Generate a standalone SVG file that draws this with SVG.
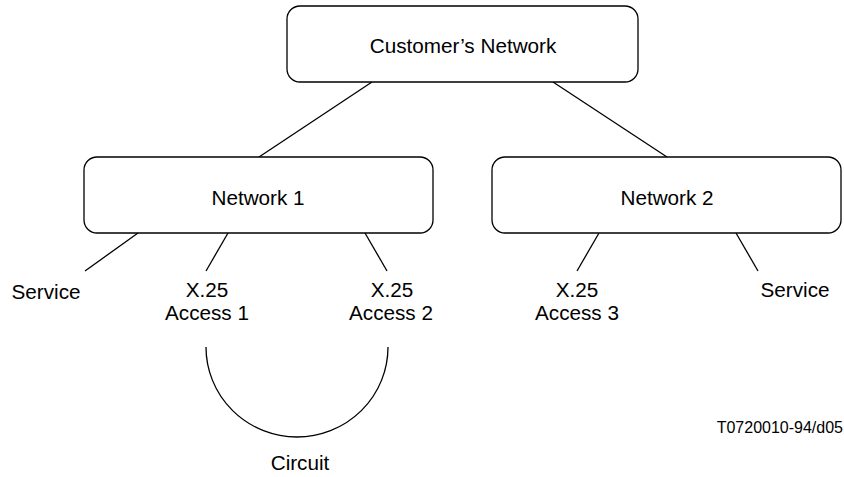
<svg xmlns="http://www.w3.org/2000/svg" width="844" height="477" viewBox="0 0 844 477">
<style>
.box{fill:#fff;stroke:#000;stroke-width:1.3}
.ln{fill:none;stroke:#000;stroke-width:1.3}
text{font-family:"Liberation Sans",Arial,sans-serif;font-size:20.7px;fill:#000;text-anchor:middle}
.small{font-size:16px;text-anchor:end}
</style>
<rect width="844" height="477" fill="#fff"/>
<g id="connectors">
<line class="ln" x1="372" y1="82" x2="259" y2="157"/>
<line class="ln" x1="553" y1="82" x2="667" y2="157"/>
<line class="ln" x1="138" y1="233" x2="85" y2="271"/>
<line class="ln" x1="228" y1="233" x2="206" y2="271"/>
<line class="ln" x1="365" y1="233" x2="387" y2="271"/>
<line class="ln" x1="599" y1="233" x2="577" y2="271"/>
<line class="ln" x1="736" y1="233" x2="758" y2="271"/>
<path id="circuit-arc" class="ln" d="M206,347 A91,90 0 0 0 388,347"/>
</g>
<g id="customers-network">
<rect class="box" x="287" y="6" width="351" height="76" rx="13" ry="13"/>
<text x="463" y="53">Customer’s Network</text>
</g>
<g id="network-1">
<rect class="box" x="84" y="157" width="349" height="76" rx="13" ry="13"/>
<text x="258" y="205">Network 1</text>
</g>
<g id="network-2">
<rect class="box" x="492" y="157" width="349" height="76" rx="13" ry="13"/>
<text x="667" y="205">Network 2</text>
</g>
<g id="service-1"><text x="46" y="299">Service</text></g>
<g id="access-1"><text x="207" y="297">X.25</text><text x="207" y="320">Access 1</text></g>
<g id="access-2"><text x="392" y="297">X.25</text><text x="391" y="320">Access 2</text></g>
<g id="access-3"><text x="577" y="297">X.25</text><text x="577" y="320">Access 3</text></g>
<g id="service-2"><text x="795" y="297">Service</text></g>
<g id="circuit"><text x="300" y="470">Circuit</text></g>
<text class="small" x="843" y="433">T0720010-94/d05</text>
</svg>
